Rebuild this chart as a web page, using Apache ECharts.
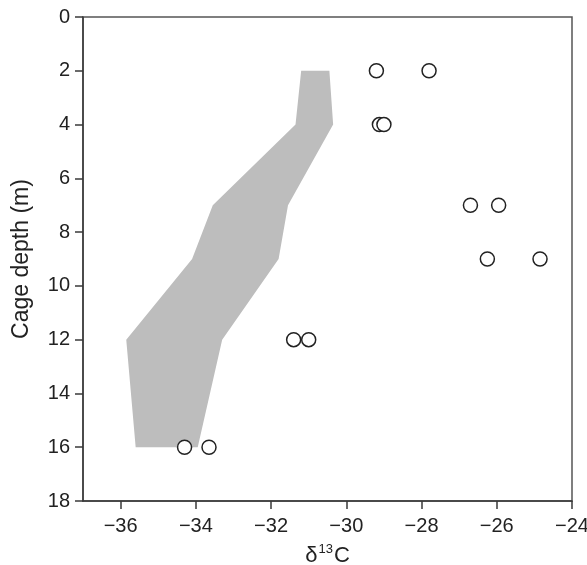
<!DOCTYPE html>
<html>
<head>
<meta charset="utf-8">
<script src="https://cdn.jsdelivr.net/npm/echarts@6/dist/echarts.min.js"></script>
<style>
  html, body { margin: 0; padding: 0; background: #fff; }
  #chart { width: 587px; height: 565px; }
</style>
</head>
<body>
<div id="chart"></div>
<script>
// band of the gray envelope (depth in m, δ13C)
const bandDepth = [2, 4, 7, 9, 12, 16];
const bandLeft = [-31.2, -31.35, -33.55, -34.1, -35.85, -35.6];
const bandRight = [-30.45, -30.35, -31.55, -31.8, -33.3, -33.95];

// open circles: measured values
const pointDepth = [2, 2, 4, 4, 7, 7, 9, 9, 12, 12, 16, 16];
const pointD13C = [-29.2, -27.8, -29.12, -29.0, -26.7, -25.95, -26.25, -24.85, -31.4, -31.0, -34.3, -33.65];

const xTicks = [-36, -34, -32, -30, -28, -26, -24];

const FONT = "Liberation Sans, Arial, sans-serif";
const AXIS_COLOR = "#3a3a3a";

// polygon outline: down the left edge, back up the right edge
const bandPoly = bandDepth.map((d, i) => [bandLeft[i], d])
  .concat(bandDepth.map((d, i) => [bandRight[i], d]).reverse());

const chart = echarts.init(document.getElementById("chart"));

chart.setOption({
  animation: false,
  grid: {
    left: 83, right: 15, top: 17, bottom: 64,
    outerBoundsMode: "none",
    show: true, borderColor: "#555", borderWidth: 1.5, backgroundColor: "transparent"
  },
  xAxis: {
    type: "value",
    min: -37,
    max: -24,
    name: "{a|δ}{s|13}{a|C}",
    nameLocation: "middle",
    nameGap: 42,
    nameTextStyle: {
      rich: {
        a: { fontFamily: FONT, fontSize: 22, color: "#222", verticalAlign: "bottom", lineHeight: 24 },
        s: { fontFamily: FONT, fontSize: 13, color: "#222", verticalAlign: "top", lineHeight: 24, padding: [0, 1, 0, 1] }
      }
    },
    axisLine: { onZero: false, lineStyle: { color: AXIS_COLOR, width: 1.5 } },
    axisTick: { customValues: xTicks, length: 8, lineStyle: { color: AXIS_COLOR, width: 1.5 } },
    axisLabel: {
      customValues: xTicks,
      margin: 15,
      fontFamily: FONT,
      fontSize: 20,
      color: "#222",
      formatter: (v) => String(v).replace("-", "\u2212")
    },
    splitLine: { show: false }
  },
  yAxis: {
    type: "value",
    inverse: true,
    min: 0,
    max: 18,
    interval: 2,
    name: "Cage depth (m)",
    nameLocation: "middle",
    nameRotate: 90,
    nameGap: 50,
    nameTextStyle: { fontFamily: FONT, fontSize: 23, color: "#222" },
    axisLine: { onZero: false, lineStyle: { color: AXIS_COLOR, width: 1.5 } },
    axisTick: { length: 8, lineStyle: { color: AXIS_COLOR, width: 1.5 } },
    axisLabel: { margin: 13, fontFamily: FONT, fontSize: 20, color: "#222" },
    splitLine: { show: false }
  },
  series: [
    {
      type: "custom",
      data: bandPoly,
      renderItem: function (params, api) {
        if (params.dataIndex !== 0) return null;
        const pts = bandPoly.map((p) => api.coord(p));
        return {
          type: "polygon",
          shape: { points: pts },
          style: { fill: "#bdbdbd", stroke: null }
        };
      },
      silent: true,
      z: 1
    },
    {
      type: "scatter",
      data: pointD13C.map((x, i) => [x, pointDepth[i]]),
      symbol: "circle",
      symbolSize: 14,
      itemStyle: { color: "#fff", borderColor: "#222", borderWidth: 1.5, opacity: 1 },
      z: 3
    }
  ]
});
</script>
</body>
</html>
